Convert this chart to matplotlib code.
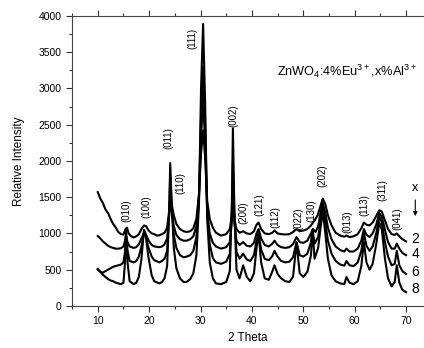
import matplotlib
matplotlib.use('Agg')
import matplotlib.pyplot as plt
from matplotlib.ticker import MultipleLocator

plt.rcParams['font.family'] = ['Liberation Sans', 'DejaVu Sans']
plt.rcParams['mathtext.fontset'] = 'custom'
plt.rcParams['mathtext.rm'] = 'Liberation Sans'
plt.rcParams['mathtext.default'] = 'regular'

# XRD patterns, (2theta, intensity)
curve_2 = [(10,1570),(10.5,1480),(11,1420),(11.5,1330),(12,1280),(12.5,1200),(13,1130),(13.5,1080),(14,1020),(14.5,990),
           (15,985),(15.4,1060),(15.7,1080),(16,1000),(16.5,960),(17,945),(17.5,960),(18,990),(18.5,1060),(19,1110),
           (19.4,1100),(19.9,1040),(20.5,1000),(21,990),(21.5,970),(22,975),(22.5,990),(23,1010),(23.5,1080),(23.8,1250),
           (24.1,1460),(24.4,1400),(24.8,1250),(25.3,1130),(26,1060),(26.7,1030),(27.3,1020),(28,1030),(28.6,1070),(29.2,1200),
           (29.7,1550),(30.1,2100),(30.5,2420),(30.9,2050),(31.3,1450),(31.8,1200),(32.4,1080),(33,1010),(34,970),(35,990),
           (35.7,1060),(36.1,1250),(36.3,1500),(36.6,1200),(37,1060),(37.6,1010),(38.3,1030),(39,1000),(39.7,990),(40.4,1030),
           (40.9,1120),(41.3,1150),(41.8,1060),(42.5,1000),(43.3,990),(44,1010),(44.4,1040),(45,1000),(45.7,990),(46.5,985),
           (47.3,990),(48,1020),(48.7,1060),(49.3,1030),(50,1040),(50.8,1060),(51.5,1110),(52.2,1180),(52.8,1250),(53.4,1390),
           (53.8,1480),(54.3,1400),(54.8,1250),(55.5,1110),(56.3,1010),(57.2,970),(58,955),(58.4,970),(59,950),(59.8,960),
           (60.6,990),(61.3,1070),(61.8,1150),(62.3,1120),(62.9,1110),(63.5,1150),(64.2,1240),(64.8,1320),(65.3,1300),(65.9,1180),
           (66.5,1060),(67.2,990),(67.8,980),(68.2,1000),(68.7,960),(69.3,920),(70,890)]

curve_4 = [(10,965),(10.5,930),(11,890),(11.5,860),(12,830),(12.5,810),(13,800),(13.5,790),(14,790),(14.5,795),
           (15,820),(15.3,900),(15.5,960),(15.8,880),(16.2,820),(17,800),(17.5,810),(18,850),(18.5,930),(19,1010),
           (19.4,980),(19.9,900),(20.5,840),(21,820),(22,810),(22.5,820),(23,850),(23.5,930),(23.9,1250),(24.1,1430),
           (24.4,1300),(24.8,1100),(25.3,980),(26,920),(26.7,900),(27.3,900),(28,920),(28.6,960),(29.2,1100),(29.7,1500),
           (30.1,2300),(30.5,2900),(30.9,2200),(31.3,1300),(31.8,1000),(32.4,870),(33,820),(34,790),(35,810),(35.7,880),
           (36.1,1200),(36.3,1700),(36.6,1150),(37,900),(37.6,840),(38.3,880),(39,830),(39.7,820),(40.4,870),(40.9,1000),
           (41.3,1060),(41.8,930),(42.5,840),(43.3,820),(44,860),(44.4,900),(45,840),(45.7,810),(46.5,800),(47.3,810),
           (48,850),(48.7,950),(49.3,880),(50,870),(50.8,900),(51.5,1000),(51.9,1060),(52.4,1020),(52.9,1100),(53.4,1300),
           (53.8,1420),(54.3,1280),(54.8,1080),(55.5,920),(56.3,820),(57.2,770),(58,750),(58.4,790),(59,750),(59.8,750),
           (60.6,790),(61.3,900),(61.8,1060),(62.3,980),(62.9,950),(63.5,1000),(64.2,1120),(64.8,1280),(65.3,1230),(65.9,1050),
           (66.5,880),(67.2,790),(67.8,790),(68.2,860),(68.7,790),(69.3,730),(70,700)]

curve_6 = [(10,500),(10.5,470),(11,460),(11.5,480),(12,500),(12.5,520),(13,540),(13.5,550),(14,560),(14.5,570),
           (15,600),(15.3,750),(15.5,1000),(15.8,760),(16.2,620),(17,600),(17.5,620),(18,680),(18.5,820),(19,1000),
           (19.3,980),(19.8,820),(20.5,680),(21,630),(22,600),(22.5,620),(23,650),(23.5,760),(23.9,1300),(24.1,1800),
           (24.4,1350),(24.8,980),(25.3,800),(26,700),(26.7,670),(27.3,680),(28,700),(28.6,760),(29.2,950),(29.7,1500),
           (30.1,2600),(30.5,3300),(30.9,2500),(31.3,1300),(31.8,850),(32.4,660),(33,600),(34,580),(35,610),(35.7,720),
           (36.1,1300),(36.3,2000),(36.6,1200),(37,750),(37.6,650),(38.3,720),(39,640),(39.7,620),(40.4,700),(40.9,900),
           (41.3,1000),(41.8,780),(42.5,650),(43.3,630),(44,690),(44.4,760),(45,680),(45.7,620),(46.5,600),(47.3,610),
           (48,670),(48.7,880),(49.3,700),(50,680),(50.8,720),(51.5,880),(51.8,1050),(52.2,860),(52.9,950),(53.4,1200),
           (53.8,1380),(54.3,1150),(54.8,900),(55.5,720),(56.3,620),(57.2,570),(58,555),(58.4,620),(59,560),(59.8,550),
           (60.6,600),(61.3,760),(61.8,1000),(62.3,830),(62.9,760),(63.5,820),(64.2,1000),(64.8,1230),(65.3,1150),(65.9,880),
           (66.5,680),(67.2,560),(67.8,580),(68.2,760),(68.7,560),(69.3,480),(70,440)]

curve_8 = [(10,510),(10.5,470),(11,430),(11.5,400),(12,370),(12.5,350),(13,340),(13.5,320),(14,310),(14.5,300),
           (15,320),(15.3,600),(15.5,1050),(15.8,600),(16.2,340),(17,300),(17.5,320),(18,400),(18.5,650),(19,1050),
           (19.3,1000),(19.8,700),(20.5,420),(21,340),(22,310),(22.5,330),(23,380),(23.5,550),(23.9,1300),(24.1,1970),
           (24.4,1400),(24.8,800),(25.3,520),(26,380),(26.7,330),(27.3,330),(28,370),(28.6,450),(29.2,700),(29.7,1400),
           (30.1,3000),(30.5,3890),(30.9,2800),(31.3,1200),(31.8,600),(32.4,380),(33,310),(34,300),(35,330),(35.7,480),
           (36.1,1400),(36.3,2450),(36.6,1300),(37,500),(37.6,380),(38.3,560),(39,400),(39.7,340),(40.4,450),(40.9,800),
           (41.3,1000),(41.8,600),(42.5,380),(43.3,360),(44,480),(44.4,560),(45,440),(45.7,380),(46.5,340),(47.3,330),
           (48,400),(48.7,870),(49.3,450),(50,400),(50.8,470),(51.5,700),(51.8,1050),(52.2,650),(52.9,800),(53.4,1100),
           (53.8,1300),(54.3,1000),(54.8,650),(55.5,420),(56.3,340),(57.2,310),(58,300),(58.4,400),(59,320),(59.8,300),
           (60.6,340),(61.3,550),(61.8,880),(62.3,600),(62.9,500),(63.5,580),(64.2,850),(64.8,1150),(65.3,1050),(65.9,650),
           (66.5,380),(67.2,270),(67.8,330),(68.2,560),(68.7,320),(69.3,220),(70,190)]

curves = [curve_2, curve_4, curve_6, curve_8]
curve_names = ['2', '4', '6', '8']
name_y = [925, 717, 469, 234]

hkl_labels = ['(010)', '(100)', '(011)', '(110)', '(111)', '(002)', '(200)', '(121)',
              '(112)', '(022)', '(130)', '(202)', '(013)', '(113)', '(311)', '(041)']
hkl_x = [15.6, 19.4, 23.7, 26.0, 28.5, 36.3, 38.3, 41.4, 44.5, 49.0, 51.5, 53.7, 58.5, 61.9, 65.4, 68.3]
hkl_y = [1320, 1365, 2317, 1700, 3690, 2630, 1280, 1390, 1230, 1210, 1320, 1800, 1160, 1390, 1600, 1210]

fig = plt.figure(figsize=(4.24, 3.48), dpi=100)
ax = fig.add_axes([0.170, 0.121, 0.83, 0.833])

for c in curves:
    xs = [p[0] for p in c]
    ys = [p[1] for p in c]
    ax.plot(xs, ys, color='black', lw=1.5)

for lab, x, y in zip(hkl_labels, hkl_x, hkl_y):
    ax.text(x, y, lab, rotation=90, ha='center', va='center', fontsize=7)

for n, y in zip(curve_names, name_y):
    ax.text(71.8, y, n, ha='center', va='center', fontsize=10)
ax.text(71.8, 1620, 'x', ha='center', va='center', fontsize=9)
ax.annotate('', xy=(71.8, 1200), xytext=(71.8, 1500),
            arrowprops=dict(arrowstyle='-|>', color='black', lw=0.8, mutation_scale=6))

ax.text(44.8, 3240, r'ZnWO$_4$:4%Eu$^{3+}$,x%Al$^{3+}$', fontsize=9.2, va='center')

ax.set_xlim(5, 73.5)
ax.set_ylim(0, 4000)
ax.xaxis.set_major_locator(MultipleLocator(10))
ax.xaxis.set_minor_locator(MultipleLocator(5))
ax.yaxis.set_major_locator(MultipleLocator(500))
ax.yaxis.set_minor_locator(MultipleLocator(250))
ax.tick_params(which='both', direction='out', top=True, labelsize=7.5, color='#333333', width=0.8)
ax.tick_params(which='major', length=4)
ax.tick_params(which='minor', length=2)
ax.spines['right'].set_visible(False)
for s in ['left', 'bottom', 'top']:
    ax.spines[s].set_color('#444444')
    ax.spines[s].set_linewidth(0.8)

ax.set_xlabel('2 Theta', fontsize=8.5)
ax.set_ylabel('Relative Intensity', fontsize=8.5, labelpad=10)

fig.savefig('out.png', dpi=100)
